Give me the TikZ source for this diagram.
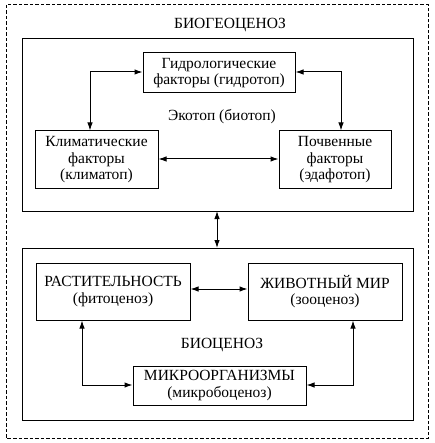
\documentclass[tikz,border=0pt]{standalone}
\usepackage{fontspec}
\setmainfont{Liberation Serif}
\usetikzlibrary{arrows.meta}
\begin{document}
\begin{tikzpicture}[x=1pt,y=-1pt,
  box/.style={draw,line width=1pt,fill=white,align=center,inner sep=0pt,font=\fontsize{15.5}{16.5}\selectfont},
  lbl/.style={font=\fontsize{15.5}{16.5}\selectfont,inner sep=0pt},
  arr/.style={line width=1pt,{Latex[length=8pt,width=5.5pt]}-{Latex[length=8pt,width=5.5pt]}}]
\useasboundingbox (0,0) rectangle (434,443);
\fill[white] (0,0) rectangle (434,443);
\draw[line width=1pt,dash pattern=on 3.5pt off 2pt] (6,5) rectangle (428,438);
\node[lbl] (bgc) at (230,25) {БИОГЕОЦЕНОЗ};
% upper box
\draw[line width=1pt] (22,39) rectangle (413,211);
\coordinate (upB) at (217,211);
\node[box,minimum width=152pt,minimum height=40pt] (gid) at (219,73) {Гидрологические\\факторы (гидротоп)};
\node[box,minimum width=123pt,minimum height=58pt] (klim) at (96.5,160) {Климатические\\факторы\\(климатоп)};
\node[box,minimum width=112pt,minimum height=58pt] (poch) at (335,160) {Почвенные\\факторы\\(эдафотоп)};
\node[lbl] (eko) at (222,117) {Экотоп (биотоп)};
\draw[arr] (klim.north -| 90,0) |- (gid.west |- 0,72);
\draw[arr] (gid.east |- 0,72) -| (poch.north -| 341,0);
\draw[arr] (klim.east |- 0,159) -- (poch.west |- 0,159);
% lower box
\draw[line width=1pt] (22,248) rectangle (413,420);
\coordinate (loT) at (217,248);
\draw[arr] (upB) -- (loT);
\node[box,minimum width=154pt,minimum height=57pt] (rast) at (113,291.5) {РАСТИТЕЛЬНОСТЬ\\(фитоценоз)};
\node[box,minimum width=154pt,minimum height=57pt] (zhiv) at (325,291.5) {ЖИВОТНЫЙ МИР\\(зооценоз)};
\node[lbl] (bioc) at (222,345) {БИОЦЕНОЗ};
\node[box,minimum width=173pt,minimum height=39pt] (mikro) at (219.5,385.5) {МИКРООРГАНИЗМЫ\\(микробоценоз)};
\draw[arr] (rast.east |- 0,289) -- (zhiv.west |- 0,289);
\draw[arr] (rast.south -| 82,0) |- (mikro.west |- 0,385);
\draw[arr] (zhiv.south -| 353,0) |- (mikro.east |- 0,385);
\end{tikzpicture}
\end{document}
